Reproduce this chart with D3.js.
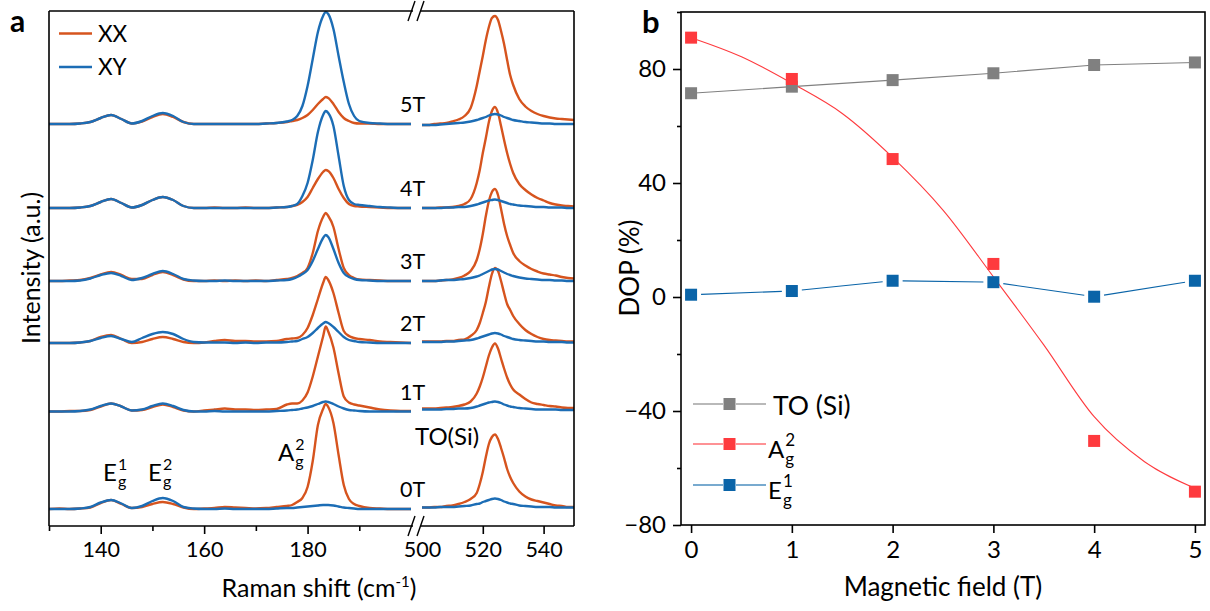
<!DOCTYPE html>
<html>
<head>
<meta charset="utf-8">
<script src="https://cdn.jsdelivr.net/npm/d3@7"></script>
<style>
  body { margin: 0; background: #fff; }
  svg { display: block; font-family: Lato, "Open Sans", sans-serif; }
</style>
</head>
<body>
<svg id="chart" width="1210" height="611"></svg>
<script>
// ---------- Panel a: Raman spectra under field ----------
const shiftLow = [130,132,134,136,138,140,142,144,146,148,150,152,154,156,158,160,162,164,166,168,170,172,174,176,
  177,178,179,180,181,182,183,183.5,184,185,186,187,188,189,190,192,194,196,198,200];
const shiftHigh = [500,502,504,506,508,510,512,514,516,518,519,520,521,522,523,524,525,526,527,528,529,530,
  532,534,536,538,540,542,544,546,548,550];
const fields = ["0T","1T","2T","3T","4T","5T"];
const stackOffsets = [17, 114.5, 183, 245, 318, 402];

// XX polarisation, low-frequency window (E_g^1, E_g^2, A_g^2)
const xxLow = [
  [0,0.5,0,0.5,1.5,6,9,5,1,2,5,7,5,1.5,0,0.5,1,2,1.5,1,0.5,1,2,3, 4,7,11,22,48,84,100,105,102,86,54,24,10,5,3, 1,0.5,0,0,0],
  [0,0,0.5,0.5,1.5,5,8,5,1,1.5,4.5,7,4.5,1,0,1,2,3,2,2,1.5,2,2.5,7, 8,8,11,19,35,55,75,85,80,64,38,15,9,7,6, 4,2,1,0.5,0.5],
  [0,0,0,0.5,2,6,8,4,0,1,4,6,4,1,0,0.5,2,3,2,2,1.5,1.5,2,4, 4.5,5,8,15,28,44,60,66,63,50,30,12,7,5,4, 3,1.5,1,0.5,0],
  [0,0,0.5,1,3,6.5,9,6,2,2,6,9,6,1.5,0,0,0.5,0,0.5,0,0.5,0,1,2, 3,5,8,13,28,50,64,68,65,54,32,13,6,3,1.5, 1,0.5,0,0,0],
  [0,0,0,0.5,2,6,9,5,0.5,3,8,11,8,2,0,0,0.5,0,0,0.5,0,0,0.5,1, 2,3,6,11,20,29,36,38,37,30,19,10,4,2,1.5, 1,0.5,0,0,0],
  [0,0,0,0.5,2,6,9,5,0.5,2.5,7,10,7,2,0,0,0,0,0,0,0,0.5,1,2, 3,4,6,9,14,20,25,27,26,20,12,6,3,1,0.5, 0.5,0,0,0,0]
];
// XY polarisation, low-frequency window
const xyLow = [
  [0,0,0,0.5,2,6.5,9,5.5,1,3,8,11,8,2,0.5,0,0,0.5,0,0,0,0,0.5,1, 1,1.5,2,2.5,3,3.5,4,4,4,3.5,2.5,1.5,1,0.5,0, 0,0,0,0,0],
  [0,0,0,0.5,2,5.5,8,5,1,2,5.5,8,5.5,1.5,0,0,0.5,0,0,0,0,0,0.5,1, 1.5,2,3,4,5.5,7.5,9.5,10,9.5,7.5,5,3,1.5,1,0.5, 0,0,0,0,0],
  [0,0,0,0.5,2,5,7,4,1,5,9,11,9,4,1,0.5,0.5,0.5,0,0.5,0,0.5,0.5,1, 1.5,2,4,6,10,15,19.5,21,20,16,11,6,3,2,1, 0.5,0,0,0,0],
  [0,0,0,0.5,2.5,6,8,5,1,3,7,10,7,2,0.5,0,0,0.5,0,0,0,0,0.5,1, 2,4,7,11,20,32,43,46,44,32,18,8,4,2,1, 0.5,0,0,0,0],
  [0,0,0,0.5,2,6,9,5,0.5,3,8,11,8,2,0,0,0,0,0,0,0,0,0.5,1, 2,4,12,25,48,76,93,97,95,82,52,22,8,4,3, 2,1,0.5,0,0],
  [0,0,0,0.5,2,6,9,5,0.5,3,8,11,8,2,0,0,0,0,0,0,0,0.5,1,2.5, 4,8,18,38,65,92,108,112,110,95,68,42,20,8,3, 1,0.5,0,0,0]
];
// XX polarisation, Si TO window
const xxHigh = [
  [1.5,1.5,2,2,3,3.5,5,7,10,16, 25,37,52,65,72,74.5,70,61,51,40,32,26, 17.5,12.5,9.5,8,6.5,5,3.5,3,2,2],
  [3,3,3,3.5,4,4.5,5.5,7,10,18, 25,34,45,56,64,68,63,53,43,34,27,22, 17,12.5,9,7.5,6.5,5.5,5,4,3.5,3.5],
  [1.5,1.5,1.5,1.5,2,2,3,3.5,7,13, 20,30,41,56,69,75,72,62,50,39,33,27, 19,13,9,6,4,3,2.5,2,1.5,1.5],
  [0,0,0,0.5,1,1.5,3,5.5,10,21, 32,47,65,80,89,92,86,72,57,45,36,28, 20,15.5,12,9.5,7.5,6.5,5.5,4,3,2.5],
  [0,0,0,0.5,0.5,1,2,4,9,25, 38,55,70,86,97,101,95,82,68,55,44,35, 24,18,13.5,10,7.5,5,3.5,2.5,2,1.5],
  [-1,-1,0,0.5,1,2.5,4.5,8,16,38, 53,68,84,97,106,108,104,93,80,64,49,39, 25,17.5,13,10,8,6.5,5.5,5,4.5,4]
];
// XY polarisation, Si TO window
const xyHigh = [
  [1.5,1.5,1.5,2,2,2,2.5,3,3.5,5, 5.5,7,8,9,10,10.5,10,9,7.5,6.5,5.5,5, 3.5,3,2.5,2,2,2,1.5,1.5,1.5,1.5],
  [2,2,2,2,2.5,2.5,3,3,3.5,5, 6,7,8,9,9.5,10,9.5,8.5,7,6,5,4.5, 3.5,3,2.5,2,2,2,2,1.5,1.5,1.5],
  [1,1,1,1,1.5,1.5,2,2.5,3,4.5, 5.5,6.5,7.5,8.5,9.5,10,9.5,8.5,7,6,5,4, 3,2.5,2,1.5,1.5,1,1,1,0.5,0.5],
  [0,0,0,0.5,1,1,1.5,2,3,4.5, 5.5,7,8.5,10,11.5,12,11.5,10,8.5,7,6,5, 3.5,2.5,2,1.5,1,1,0.5,0.5,0,0],
  [0,0,0,0,0.5,0.5,1,1,2,3.5, 4.5,5.5,6.5,7.5,8,8.5,8,7,6,5,4,3.5, 2.5,2,1.5,1,1,0.5,0.5,0.5,0,0],
  [-1,-1,-1,-0.5,0,0.5,1,1.5,2.5,4, 5,6,7,8.5,9.5,10,9.5,8.5,7,6,5,4, 3,2,1.5,1,0.5,0.5,0,0,0,0]
];
const lowMajor = [140, 160, 180];
const lowMinor = [130, 150, 170, 190];
const highMajor = [500, 520, 540];

// ---------- Panel b: degree of polarisation ----------
const fieldT = [0, 1, 2, 3, 4, 5];
const dopTO = [71.5, 73.8, 76.1, 78.5, 81.4, 82.3];
const dopAg = [91, 76.5, 48.4, 11.6, -50.5, -68.3];
const dopEg = [0.8, 2.1, 5.7, 5.2, 0.1, 5.7];
const fitT  = [0, 0.5, 1, 1.5, 2, 2.5, 3, 3.5, 4, 4.5, 5];
const fitAg = [91, 84.3, 75, 64.4, 49, 30.5, 7.1, -16.8, -42, -57.8, -67.1];
const dopMajor = [-80, -40, 0, 40, 80];
const dopMinor = [-60, -20, 20, 60, 100];

const C_XX = "#d6541e", C_XY = "#1c6db5";
const C_TO = "#808080", C_AG = "#fe3a3e", C_EG = "#0a64a8";

const svg = d3.select("#chart");

// ================= panel a =================
const xLow = d3.scaleLinear().domain([130, 200]).range([49, 411]);
const xHigh = d3.scaleLinear().domain([500, 550]).range([422, 574]);
const yA = d3.scaleLinear().domain([0, 515]).range([526, 11]);

const pa = svg.append("g");
function spectrum(xs, vals, off, xs_scale, color) {
  const line = d3.line()
    .x((d, i) => xs_scale(xs[i]))
    .y(d => yA(off + d))
    .curve(d3.curveMonotoneX);
  pa.append("path").attr("d", line(vals))
    .attr("fill", "none").attr("stroke", color)
    .attr("stroke-width", 2.4).attr("stroke-linejoin", "round");
}
fields.forEach((f, i) => {
  spectrum(shiftLow, xxLow[i], stackOffsets[i], xLow, C_XX);
  spectrum(shiftHigh, xxHigh[i], stackOffsets[i], xHigh, C_XX);
  spectrum(shiftLow, xyLow[i], stackOffsets[i], xLow, C_XY);
  spectrum(shiftHigh, xyHigh[i], stackOffsets[i], xHigh, C_XY);
  pa.append("text").attr("x", 400).attr("y", yA(stackOffsets[i]) - 12)
    .attr("font-size", 21.5).text(f);
});

// frame with axis break
const frame = svg.append("g").attr("stroke", "#000").attr("stroke-width", 1.6).attr("fill", "none");
const yTop = yA(515), yBot = yA(0), xL = xLow(130), xR = xHigh(550);
const brkA = 413, brkB = 421;
frame.append("line").attr("x1", xL).attr("x2", xL).attr("y1", yTop).attr("y2", yBot);
frame.append("line").attr("x1", xR).attr("x2", xR).attr("y1", yTop).attr("y2", yBot);
[yTop, yBot].forEach(y => {
  frame.append("line").attr("x1", xL).attr("x2", brkA).attr("y1", y).attr("y2", y);
  frame.append("line").attr("x1", brkB).attr("x2", xR).attr("y1", y).attr("y2", y);
  [408, 417].forEach(bx => frame.append("line")
    .attr("x1", bx).attr("y1", y + 10).attr("x2", bx + 7).attr("y2", y - 10).attr("stroke-width", 1.4));
});

function styleAxis(g, fs) {
  g.select(".domain").remove();
  g.selectAll(".tick line").attr("stroke", "#000").attr("stroke-width", 1.6);
  g.selectAll(".tick text").attr("font-size", fs).attr("font-family", "Lato, sans-serif").attr("fill", "#000");
}
const axLow = svg.append("g").attr("transform", `translate(0,${yBot})`)
  .call(d3.axisBottom(xLow).tickValues(lowMajor).tickSize(8).tickPadding(8).tickFormat(d3.format("d")));
styleAxis(axLow, 21.5);
const axLowMinor = svg.append("g").attr("transform", `translate(0,${yBot})`)
  .call(d3.axisBottom(xLow).tickValues(lowMinor).tickSize(5).tickFormat(""));
styleAxis(axLowMinor, 21.5);
const axHigh = svg.append("g").attr("transform", `translate(0,${yBot})`)
  .call(d3.axisBottom(xHigh).tickValues(highMajor).tickSize(8).tickPadding(8).tickFormat(d3.format("d")));
styleAxis(axHigh, 21.5);
axHigh.selectAll(".tick").filter(d => d === 500).select("line").remove();

// axis titles
const tA = svg.append("text").attr("x", 319).attr("y", 597).attr("text-anchor", "middle").attr("font-size", 25);
tA.append("tspan").text("Raman shift (cm");
tA.append("tspan").attr("font-size", 15).attr("dy", -10).text("-1");
tA.append("tspan").attr("dy", 10).text(")");
svg.append("text").attr("transform", "translate(40,268) rotate(-90)").attr("text-anchor", "middle")
  .attr("font-size", 25).text("Intensity (a.u.)");
svg.append("text").attr("x", 10).attr("y", 32).attr("font-size", 30).attr("font-weight", "bold").text("a");

// legend
[["XX", C_XX, 33.5], ["XY", C_XY, 67]].forEach(([lab, col, y]) => {
  svg.append("line").attr("x1", 59).attr("x2", 92).attr("y1", y).attr("y2", y)
    .attr("stroke", col).attr("stroke-width", 2.4);
  svg.append("text").attr("x", 98).attr("y", y + 8).attr("font-size", 22.5).text(lab);
});

// mode label with stacked super/subscript
function modeLabel(g, x, y, main, sup, sub, fs, fsSmall, dSup, dSub) {
  const t = g.append("text").attr("x", x).attr("y", y).attr("font-size", fs).text(main);
  const w = t.node().getComputedTextLength();
  g.append("text").attr("x", x + w + 1).attr("y", y + dSup).attr("font-size", fsSmall).text(sup);
  g.append("text").attr("x", x + w + 1).attr("y", y + dSub).attr("font-size", fsSmall).text(sub);
}
modeLabel(svg, 103, 481, "E", "1", "g", 24, 16, -11, 6);
modeLabel(svg, 148, 481, "E", "2", "g", 24, 16, -11, 6);
modeLabel(svg, 278, 461, "A", "2", "g", 24, 16, -11, 6);
svg.append("text").attr("x", 415).attr("y", 445).attr("font-size", 24).text("TO(Si)");

// ================= panel b =================
const xB = d3.scaleLinear().domain([-0.1, 5.1]).range([681, 1205]);
const yB = d3.scaleLinear().domain([-80, 100]).range([525, 12]);
const pb = svg.append("g");

pb.append("rect").attr("x", xB(-0.1)).attr("y", yB(100))
  .attr("width", xB(5.1) - xB(-0.1)).attr("height", yB(-80) - yB(100))
  .attr("fill", "none").attr("stroke", "#000").attr("stroke-width", 1.6);

const axBx = pb.append("g").attr("transform", `translate(0,${yB(-80)})`)
  .call(d3.axisBottom(xB).tickValues(fieldT).tickSize(8).tickPadding(8).tickFormat(d3.format("d")));
styleAxis(axBx, 24);
const axBy = pb.append("g").attr("transform", `translate(${xB(-0.1)},0)`)
  .call(d3.axisLeft(yB).tickValues(dopMajor).tickSize(8).tickPadding(7).tickFormat(d3.format("d")));
styleAxis(axBy, 24);
const axByMinor = pb.append("g").attr("transform", `translate(${xB(-0.1)},0)`)
  .call(d3.axisLeft(yB).tickValues(dopMinor).tickSize(4).tickFormat(""));
styleAxis(axByMinor, 24);

// series lines
pb.append("path").attr("d", d3.line().x((d, i) => xB(fieldT[i])).y(d => yB(d))(dopTO))
  .attr("fill", "none").attr("stroke", C_TO).attr("stroke-width", 1.1);
pb.append("path").attr("d", d3.line().x((d, i) => xB(fitT[i])).y(d => yB(d)).curve(d3.curveMonotoneX)(fitAg))
  .attr("fill", "none").attr("stroke", C_AG).attr("stroke-width", 1.1);
// E_g line is drawn with a small gap next to each symbol
for (let i = 0; i < fieldT.length - 1; i++) {
  const x1 = xB(fieldT[i]), y1 = yB(dopEg[i]), x2 = xB(fieldT[i + 1]), y2 = yB(dopEg[i + 1]);
  const len = Math.hypot(x2 - x1, y2 - y1), ux = (x2 - x1) / len, uy = (y2 - y1) / len, gap = 10;
  pb.append("line").attr("x1", x1 + ux * gap).attr("y1", y1 + uy * gap)
    .attr("x2", x2 - ux * gap).attr("y2", y2 - uy * gap)
    .attr("stroke", C_EG).attr("stroke-width", 1.1);
}
const M = 12;
function markers(vals, col) {
  pb.selectAll(null).data(vals).enter().append("rect")
    .attr("x", (d, i) => xB(fieldT[i]) - M / 2).attr("y", d => yB(d) - M / 2)
    .attr("width", M).attr("height", M).attr("fill", col);
}
markers(dopTO, C_TO);
markers(dopAg, C_AG);
markers(dopEg, C_EG);

// legend
const legRows = [
  { col: C_TO, y: 404, main: "TO (Si)" },
  { col: C_AG, y: 444, main: "A", sup: "2", sub: "g" },
  { col: C_EG, y: 485, main: "E", sup: "1", sub: "g" }
];
legRows.forEach(r => {
  pb.append("line").attr("x1", 693).attr("x2", 723).attr("y1", r.y).attr("y2", r.y).attr("stroke", r.col).attr("stroke-width", 1.1);
  pb.append("line").attr("x1", 736).attr("x2", 766).attr("y1", r.y).attr("y2", r.y).attr("stroke", r.col).attr("stroke-width", 1.1);
  pb.append("rect").attr("x", 729.5 - M / 2).attr("y", r.y - M / 2).attr("width", M).attr("height", M).attr("fill", r.col);
  if (r.sup) modeLabel(pb, 768, r.y + 14, r.main, r.sup, r.sub, 24, 17, -12, 7);
  else pb.append("text").attr("x", 773).attr("y", r.y + 11).attr("font-size", 26.5).text(r.main);
});

svg.append("text").attr("x", 943).attr("y", 596).attr("text-anchor", "middle").attr("font-size", 26).text("Magnetic field (T)");
svg.append("text").attr("transform", "translate(639,268) rotate(-90)").attr("text-anchor", "middle")
  .attr("font-size", 26).text("DOP (%)");
svg.append("text").attr("x", 642).attr("y", 33).attr("font-size", 31).attr("font-weight", "bold").text("b");
</script>
</body>
</html>
